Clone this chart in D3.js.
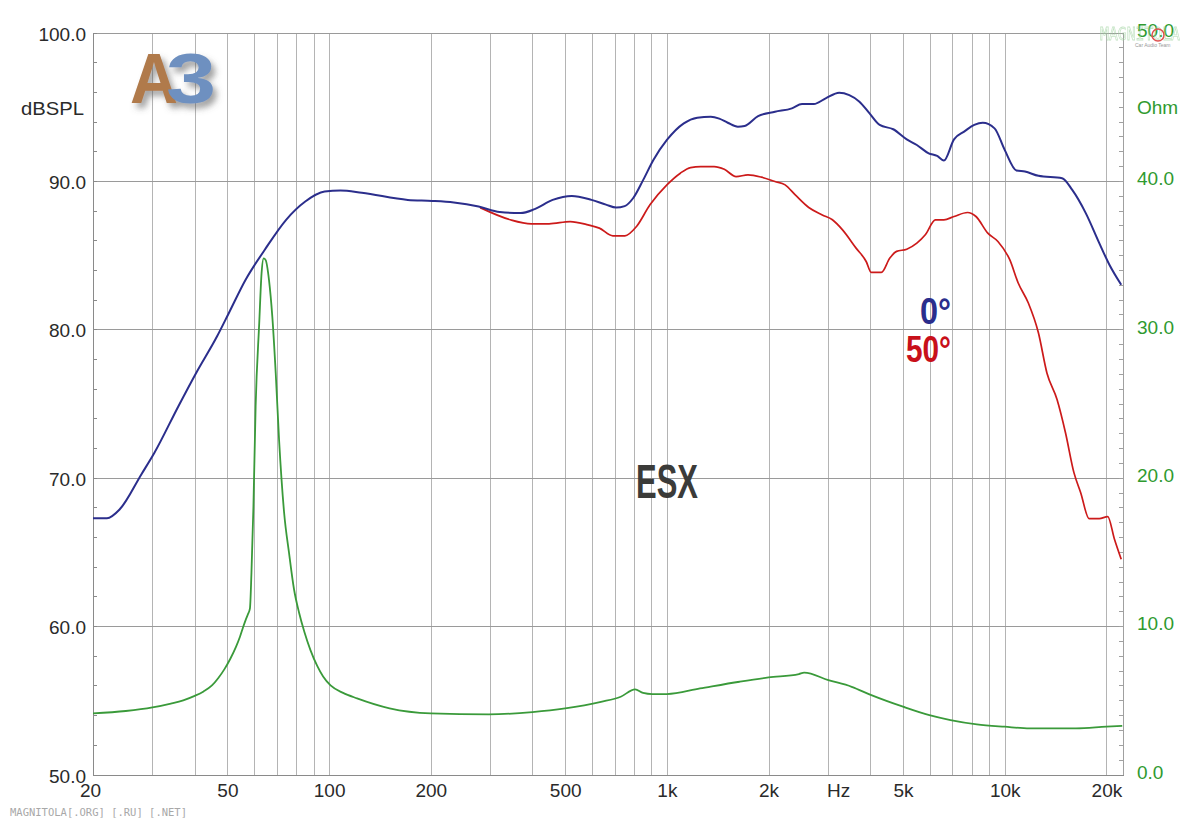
<!DOCTYPE html>
<html><head><meta charset="utf-8">
<script src="https://cdn.jsdelivr.net/npm/d3@7/dist/d3.min.js"></script>
<style>
body{margin:0;background:#fff;}
svg{display:block;}
</style></head>
<body>
<svg id="chart" width="1200" height="822"></svg>
<script>
// ---- data ----
const freq0 = [20,22,24,27.8,30.4,35.8,40.4,46.6,50.5,56.6,64.5,74.6,85,97,108,125,171,202,234,277,320,369,406,459,523,598,660,708,750,794,851,912,1000,1122,1230,1349,1429,1514,1622,1698,1862,2089,2344,2512,2723,2951,3236,3467,3715,3981,4266,4677,5129,5495,5957,6310,6607,7079,7586,8128,8610,9333,10000,10839,11482,12589,14791,15849,17378,19055,20417,22131];
const spl0 = [67.27,67.27,67.87,70.22,71.68,74.82,77.06,79.53,81.1,83.34,85.36,87.38,88.61,89.28,89.35,89.2,88.72,88.65,88.54,88.27,87.9,87.83,88.1,88.72,88.99,88.72,88.4,88.2,88.3,88.83,90.07,91.41,92.76,93.88,94.26,94.33,94.2,93.92,93.65,93.7,94.37,94.66,94.89,95.18,95.18,95.56,95.94,95.78,95.34,94.55,93.77,93.48,92.8,92.42,91.86,91.68,91.37,92.8,93.32,93.77,93.92,93.54,92.09,90.7,90.63,90.34,90.18,89.39,87.83,85.81,84.35,83.0];

const freq50 = [280,344,397,448,517,584,631,692,751,813,891,1000,1096,1175,1259,1380,1479,1603,1738,1905,2089,2239,2399,2630,2884,3090,3311,3631,3890,4027,4315,4571,4786,5129,5495,5821,6237,6607,7079,7762,8222,8913,9550,10351,10965,11749,12589,13335,14289,15136,16032,16788,17783,19055,20184,21135,22131];
const spl50 = [88.2,87.38,87.11,87.11,87.26,87.04,86.82,86.3,86.3,86.93,88.39,89.73,90.52,90.9,90.96,90.96,90.78,90.29,90.4,90.25,89.96,89.73,89.06,88.21,87.71,87.38,86.7,85.47,84.57,83.83,83.83,84.8,85.25,85.4,85.81,86.37,87.38,87.38,87.6,87.87,87.6,86.48,85.92,84.69,83.12,81.77,79.75,77.06,75.27,73.03,70.34,68.99,67.24,67.24,67.38,65.85,64.5];

const freqZ = [20,25,30,34,37,40,42.5,45,47,49,51,53,54.5,55.6,56.6,57.5,58.3,58.9,59.7,60.6,62.1,63.1,64,64.9,66.4,67.9,69.5,71.1,73.6,76.1,78.7,81.5,84.5,88,92.3,96,101,110,121,151,200,297,400,500,638,730,805,850,905,1000,1253,1641,2000,2460,2549,3006,3524,4030,5000,5984,6912,8271,10000,11858,16250,20000,22284];
const ohmZ = [4.12,4.28,4.52,4.78,5.0,5.3,5.6,6.0,6.5,7.1,7.8,8.6,9.3,9.9,10.4,10.8,11.2,13.59,18.07,24.8,30.4,33.77,34.78,34.66,33.3,30.85,27.04,22.56,17.62,14.93,12.5,10.9,9.6,8.4,7.3,6.6,6.0,5.5,5.13,4.46,4.12,4.05,4.21,4.46,4.9,5.24,5.74,5.5,5.42,5.42,5.8,6.25,6.54,6.77,6.86,6.36,5.91,5.35,4.57,4.0,3.67,3.38,3.22,3.11,3.11,3.22,3.27];

const xTickValues = [20,50,100,200,500,1000,2000,3000,5000,10000,20000];
const xTickLabels = ["20","50","100","200","500","1k","2k","Hz","5k","10k","20k"];
const xGridValues = [30,40,50,60,70,80,90,100,200,300,400,500,600,700,800,900,1000,2000,3000,4000,5000,6000,7000,8000,9000,10000,20000];
const dbTicks = [50,60,70,80,90,100];
const ohmTicks = [0,10,20,30,40,50];

// ---- scales ----
const L = 93, R = 1123, T = 32.5, B = 774.5;
const svg = d3.select("#chart");
const x = d3.scaleLog().domain([20, 22400]).range([L, R]);
const y = d3.scaleLinear().domain([50, 100]).range([B, T]);
const yz = d3.scaleLinear().domain([0, 50]).range([B, T]);

svg.append("rect").attr("width",1200).attr("height",822).attr("fill","#fff");

// vertical grid
svg.append("g").attr("transform",`translate(0,${B})`)
  .call(d3.axisBottom(x).tickValues(xGridValues).tickSize(-(B-T)).tickFormat(""))
  .call(g=>g.select(".domain").remove())
  .call(g=>g.selectAll("line").attr("stroke","#b4b4b4").attr("stroke-width",1).attr("shape-rendering","crispEdges"));

// horizontal grid
svg.append("g").attr("transform",`translate(${L},0)`)
  .call(d3.axisLeft(y).tickValues(dbTicks).tickSize(-(R-L)).tickFormat(""))
  .call(g=>g.select(".domain").remove())
  .call(g=>g.selectAll("line").attr("stroke","#9a9a9a").attr("stroke-width",1).attr("shape-rendering","crispEdges"));

// minor ticks left / right
svg.append("g").attr("transform",`translate(${L},0)`)
  .call(d3.axisLeft(y).tickValues(d3.range(50,101,2)).tickSize(-4).tickFormat(""))
  .call(g=>g.select(".domain").attr("stroke","#8a8a8a").attr("shape-rendering","crispEdges"))
  .call(g=>g.selectAll("line").attr("stroke","#8a8a8a").attr("shape-rendering","crispEdges"));
svg.append("g").attr("transform",`translate(${R},0)`)
  .call(d3.axisRight(yz).tickValues(d3.range(0,51,1)).tickSize(-4).tickFormat(""))
  .call(g=>g.select(".domain").attr("stroke","#a0a0a0").attr("shape-rendering","crispEdges"))
  .call(g=>g.selectAll("line").attr("stroke","#a0a0a0").attr("shape-rendering","crispEdges"));

// bottom axis with labels
svg.append("g").attr("transform",`translate(0,${B})`)
  .call(d3.axisBottom(x).tickValues(xTickValues).tickSize(0).tickPadding(9)
        .tickFormat((d,i)=>xTickLabels[i]))
  .call(g=>g.select(".domain").attr("stroke","#8a8a8a").attr("shape-rendering","crispEdges"))
  .call(g=>g.selectAll("text").attr("font-family","'Liberation Sans', Arial, sans-serif")
        .attr("font-size",19).attr("fill","#2a2a2a")
        .attr("dx",(d)=> d===3000 ? 10 : (d===20 ? -3 : 0)));

// left labels
svg.append("g").attr("transform",`translate(${L},0)`)
  .call(d3.axisLeft(y).tickValues(dbTicks).tickSize(0).tickPadding(7).tickFormat(d3.format(".1f")))
  .call(g=>g.select(".domain").remove())
  .call(g=>g.selectAll("text").attr("font-family","'Liberation Sans', Arial, sans-serif")
        .attr("font-size",19).attr("fill","#2a2a2a").attr("dy","0.4em"));

// right labels
svg.append("g").attr("transform",`translate(${R},0)`)
  .call(d3.axisRight(yz).tickValues(ohmTicks).tickSize(0).tickPadding(14).tickFormat(d3.format(".1f")))
  .call(g=>g.select(".domain").remove())
  .call(g=>g.selectAll("text").attr("font-family","'Liberation Sans', Arial, sans-serif")
        .attr("font-size",19).attr("fill","#2f9a2f").attr("dy","0.2em"));

// unit labels
svg.append("text").attr("x",84).attr("y",115).attr("text-anchor","end")
  .attr("font-family","'Liberation Sans', Arial, sans-serif").attr("font-size",19).attr("fill","#2a2a2a")
  .attr("textLength",63).attr("lengthAdjust","spacingAndGlyphs").text("dBSPL");
svg.append("text").attr("x",1137).attr("y",114)
  .attr("font-family","'Liberation Sans', Arial, sans-serif").attr("font-size",19).attr("fill","#2f9a2f").text("Ohm");

// curves
const line = d3.line().x(d=>x(d[0])).y(d=>d[1]).curve(d3.curveMonotoneX);
const z0 = freqZ.map((f,i)=>[f, yz(ohmZ[i])]);
const c50 = freq50.map((f,i)=>[f, y(spl50[i])]);
const c0 = freq0.map((f,i)=>[f, y(spl0[i])]);
svg.append("path").attr("d",line(z0)).attr("fill","none").attr("stroke","#3a9a3a").attr("stroke-width",1.8);
svg.append("path").attr("d",line(c50)).attr("fill","none").attr("stroke","#cc1a1a").attr("stroke-width",1.7);
svg.append("path").attr("d",line(c0)).attr("fill","none").attr("stroke","#2b2e8c").attr("stroke-width",2);

// annotations
const defs = svg.append("defs");
const f = defs.append("filter").attr("id","sh").attr("x","-20%").attr("y","-20%").attr("width","160%").attr("height","160%");
f.append("feDropShadow").attr("dx",4).attr("dy",5).attr("stdDeviation",3).attr("flood-color","#555").attr("flood-opacity",0.55);
const logo = svg.append("g").attr("filter","url(#sh)");
logo.append("text").attr("x",130).attr("y",103).attr("font-family","'Liberation Sans', Arial, sans-serif")
  .attr("font-weight","bold").attr("font-size",70).attr("fill","#b07a4b").attr("textLength",48).attr("lengthAdjust","spacingAndGlyphs").text("A");
logo.append("text").attr("x",166).attr("y",103).attr("font-family","'Liberation Sans', Arial, sans-serif")
  .attr("font-weight","bold").attr("font-size",70).attr("fill","#6e90c0").attr("textLength",50).attr("lengthAdjust","spacingAndGlyphs").text("3");

svg.append("text").attr("x",636).attr("y",498).attr("font-family","'Liberation Sans Narrow','Liberation Sans', Arial, sans-serif")
  .attr("font-weight","bold").attr("font-size",49).attr("fill","#3b3b39").attr("textLength",62).attr("lengthAdjust","spacingAndGlyphs").text("ESX");
svg.append("text").attr("x",920).attr("y",324).attr("font-family","'Liberation Sans Narrow','Liberation Sans', Arial, sans-serif")
  .attr("font-weight","bold").attr("font-size",36).attr("fill","#2b2e8c").attr("textLength",31).attr("lengthAdjust","spacingAndGlyphs").text("0°");
svg.append("text").attr("x",906).attr("y",362).attr("font-family","'Liberation Sans Narrow','Liberation Sans', Arial, sans-serif")
  .attr("font-weight","bold").attr("font-size",36).attr("fill","#c8101a").attr("textLength",45).attr("lengthAdjust","spacingAndGlyphs").text("50°");

// watermarks
svg.append("text").attr("x",1100).attr("y",40).attr("font-family","'DejaVu Sans Mono', monospace")
  .attr("font-size",18).attr("fill","none").attr("stroke","#9ed29e").attr("stroke-width",0.8).attr("opacity",0.6)
  .attr("textLength",80).attr("lengthAdjust","spacingAndGlyphs").text("MAGNITOLA");
svg.append("circle").attr("cx",1158).attr("cy",35).attr("r",6).attr("fill","none").attr("stroke","#e05050").attr("stroke-width",1.5);
svg.append("text").attr("x",1135).attr("y",47).attr("font-family","'Liberation Sans', Arial, sans-serif")
  .attr("font-size",5).attr("fill","#999").text("Car Audio Team");
svg.append("text").attr("x",10).attr("y",816).attr("font-family","'DejaVu Sans Mono', monospace")
  .attr("font-size",10.5).attr("fill","#a8a8a8").text("MAGNITOLA[.ORG] [.RU] [.NET]");
</script>
</body></html>
